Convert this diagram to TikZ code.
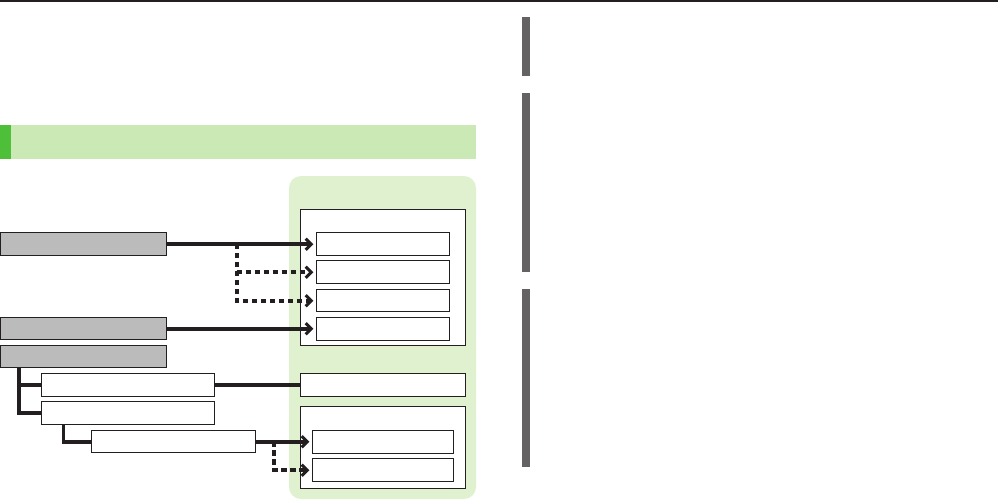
\documentclass[tikz,border=0pt]{standalone}
\usetikzlibrary{arrows.meta}
\definecolor{ink}{HTML}{231F20}
\definecolor{hdrgreen}{HTML}{CAE9B5}
\definecolor{hdrstrip}{HTML}{4DBF38}
\definecolor{panelgreen}{HTML}{DFF1CE}
\definecolor{boxgray}{HTML}{BBBBBB}
\definecolor{bargray}{HTML}{646263}
\tikzset{
  bx/.style={draw=ink, line width=0.9pt, fill=white, inner sep=0pt, anchor=north west},
  gbx/.style={bx, fill=boxgray},
  conn/.style={draw=ink, line width=3.6pt, line join=miter},
  dconn/.style={conn, dash pattern=on 5.5pt off 3.5pt},
  tip/.style={-{Straight Barb[length=5.5pt,width=11pt,line width=3pt]}, shorten >=3pt},
}
\begin{document}
\begin{tikzpicture}[x=1pt,y=-1pt]
\useasboundingbox (0,0) rectangle (998,501);
% top rule
\fill[ink] (0,0) rectangle (998,2);
% header bar
\fill[hdrgreen] (0,125) rectangle (476,159);
\fill[hdrstrip] (0,125) rectangle (11,159);
% right gray bars
\fill[bargray] (522,17) rectangle (530,76);
\fill[bargray] (522,93) rectangle (530,272);
\fill[bargray] (522,289) rectangle (530,467);
% green panel
\fill[panelgreen, rounded corners=12pt] (289,176) rectangle (476,499);
% right boxes
\node[bx, minimum width=165pt, minimum height=136pt] (R1) at (300,209.3) {};
\node[bx, minimum width=132.4pt, minimum height=23pt] (b1) at (316.3,232.3) {};
\node[bx, minimum width=132.4pt, minimum height=23pt] (b2) at (316.3,260.3) {};
\node[bx, minimum width=132.4pt, minimum height=22pt] (b3) at (316.3,289.3) {};
\node[bx, minimum width=132.4pt, minimum height=23pt] (b4) at (316.3,317.3) {};
\node[bx, minimum width=165pt, minimum height=23pt] (G) at (300,373.3) {};
\node[bx, minimum width=165pt, minimum height=82pt] (H) at (300,406.3) {};
\node[bx, minimum width=140.4pt, minimum height=23pt] (h1) at (312.3,430.3) {};
\node[bx, minimum width=140.4pt, minimum height=23pt] (h2) at (312.3,458.3) {};
% left boxes
\node[gbx, minimum width=165.7pt, minimum height=23pt] (A) at (0,232.3) {};
\node[gbx, minimum width=165.7pt, minimum height=22pt] (B) at (0,317.3) {};
\node[gbx, minimum width=165.7pt, minimum height=22pt] (C) at (0,345.3) {};
\node[bx, minimum width=173pt, minimum height=23pt] (D) at (41.3,373.3) {};
\node[bx, minimum width=173pt, minimum height=23pt] (E) at (41.3,401.3) {};
\node[bx, minimum width=164pt, minimum height=22pt] (F) at (91.3,430.3) {};
% connectors
\coordinate (j1) at (236.7,243.8);
\coordinate (t1) at (19,367.3);
\coordinate (t2) at (63.3,424.3);
\coordinate (j2) at (274,441.3);
\draw[conn, tip] (A.east) -- (A.east -| b1.west);
\draw[dconn, tip] (j1) |- (b3.west);
\draw[dconn, tip] (j1 |- b2.west) -- (b2.west);
\draw[conn, tip] (B.east) -- (B.east -| b4.west);
\draw[conn] (t1) |- (E.west);
\draw[conn] (t1 |- D.west) -- (D.west);
\draw[conn] (D.east) -- (G.west);
\draw[conn] (t2) |- (F.west);
\draw[conn, tip] (F.east) -- (F.east -| h1.west);
\draw[dconn, tip] (j2) |- (h2.west);
\end{tikzpicture}
\end{document}
